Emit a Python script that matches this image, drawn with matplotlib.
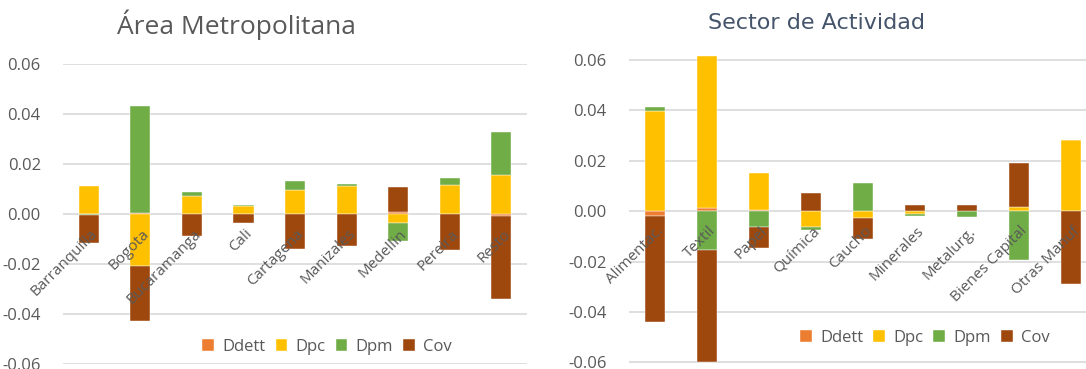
import matplotlib.pyplot as plt
import numpy as np

# Area Metropolitana data
cities = ["Barranquilla", "Bogota", "Bucaramanga", "Cali", "Cartagena",
          "Manizales", "Medellin", "Pereira", "Resto"]
city_ddett = [0.0000, 0.0005, 0.0000, 0.0000, 0.0000, 0.0000, 0.0007, 0.0000, -0.0008]
city_dpc = [0.0111, -0.0208, 0.0072, 0.0033, 0.0097, 0.0113, -0.0037, 0.0116, 0.0155]
city_dpm = [-0.0004, 0.0426, 0.0016, 0.0005, 0.0036, 0.0009, -0.0069, 0.0027, 0.0173]
city_cov = [-0.0112, -0.0221, -0.0089, -0.0037, -0.0140, -0.0127, 0.0103, -0.0143, -0.0333]

# Sector de Actividad data
sectors = ["Alimentac.", "Textil", "Papel", "Química", "Caucho", "Minerales",
           "Metalurg.", "Bienes Capital", "Otras Manuf"]
sec_ddett = [-0.0019, 0.0012, 0.0005, 0.0000, 0.0000, 0.0000, 0.0000, 0.0000, 0.0000]
sec_dpc = [0.0396, 0.0605, 0.0148, -0.0064, -0.0029, -0.0013, 0.0000, 0.0016, 0.0283]
sec_dpm = [0.0019, -0.0154, -0.0061, -0.0011, 0.0111, -0.0008, -0.0025, -0.0193, 0.0000]
sec_cov = [-0.0420, -0.0444, -0.0086, 0.0073, -0.0082, 0.0023, 0.0025, 0.0175, -0.0290]

series_names = ["Ddett", "Dpc", "Dpm", "Cov"]
colors = ["#ED7D31", "#FFC000", "#70AD47", "#9E480E"]
gray = "#595959"

plt.rcParams["font.family"] = ["Open Sans", "DejaVu Sans"]
plt.rcParams["axes.unicode_minus"] = False


def stacked_panel(ax, labels, series, ylim, legend_pos):
    x = np.arange(len(labels))
    pos_base = np.zeros(len(labels))
    neg_base = np.zeros(len(labels))
    for name, vals, col in zip(series_names, series, colors):
        vals = np.array(vals)
        base = np.where(vals >= 0, pos_base, neg_base)
        ax.bar(x, vals, bottom=base, width=0.39, color=col, label=name,
               edgecolor="white", linewidth=0.3)
        pos_base += np.where(vals >= 0, vals, 0)
        neg_base += np.where(vals < 0, vals, 0)

    ax.set_xlim(-0.5, len(labels) - 0.5)
    ax.set_ylim(*ylim)
    ax.set_yticks([-0.06, -0.04, -0.02, 0.0, 0.02, 0.04, 0.06])
    ax.set_yticklabels(["-0.06", "-0.04", "-0.02", "0.00", "0.02", "0.04", "0.06"])
    ax.set_xticks([])
    ax.tick_params(axis="y", length=0, pad=16, labelsize=12, labelcolor=gray)
    ax.grid(axis="y", color="#D9D9D9", linewidth=1.2)
    ax.set_axisbelow(True)
    for s in ax.spines.values():
        s.set_visible(False)

    # category labels sit at the zero line, on top of the bars
    for i, lab in enumerate(labels):
        ax.annotate(lab, xy=(i, 0), xytext=(1, -9), textcoords="offset points",
                    rotation=45, ha="right", va="top", rotation_mode="anchor",
                    fontsize=11, color=gray, zorder=5)

    ax.legend(loc="center", bbox_to_anchor=legend_pos, ncol=4, frameon=False,
              fontsize=12, labelcolor=gray, handlelength=0.7, handleheight=0.7,
              handletextpad=0.5, columnspacing=0.6)


fig = plt.figure(figsize=(10.86, 3.69), dpi=100)
ax1 = fig.add_axes([0.058, 0.01355, 0.4273, 0.813])
ax2 = fig.add_axes([0.5789, 0.0114, 0.4309, 0.843])

stacked_panel(ax1, cities, [city_ddett, city_dpc, city_dpm, city_cov],
              (-0.06, 0.06), (0.569, 0.058))
stacked_panel(ax2, sectors, [sec_ddett, sec_dpc, sec_dpm, sec_cov],
              (-0.061, 0.0625), (0.633, 0.086))

fig.text(236 / 1086, 1 - 25 / 369, "Área Metropolitana", ha="center", va="center",
         fontsize=19, color=gray)
fig.text(817 / 1086, 1 - 23 / 369, "Sector de Actividad", ha="center", va="center",
         fontsize=16, color="#44546A", family="DejaVu Sans")

fig.savefig("out.png", dpi=100)
